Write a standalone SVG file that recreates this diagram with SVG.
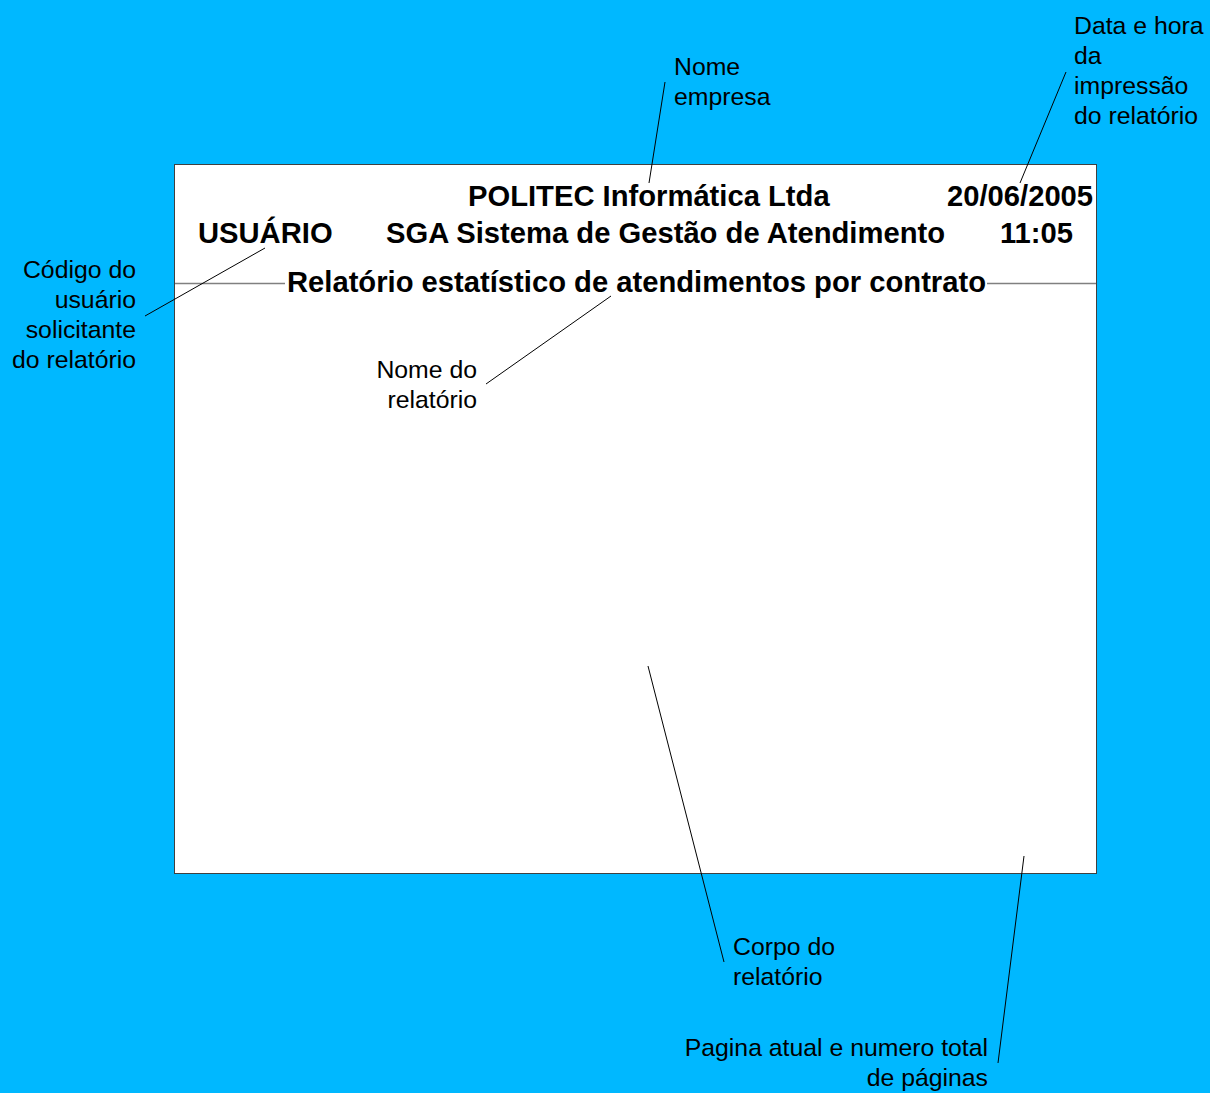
<svg xmlns="http://www.w3.org/2000/svg" width="1210" height="1093" viewBox="0 0 1210 1093">
  <style>
    .hdr { font-family: "Liberation Sans", Arial, sans-serif; font-weight: bold; font-size: 29.2px; fill: #000; }
    .lbl { font-family: "Liberation Sans", Arial, sans-serif; font-size: 24.8px; fill: #000; }
    .end { text-anchor: end; }
    .lead { stroke: #000; stroke-width: 1; fill: none; }
  </style>
  <rect x="0" y="0" width="1210" height="1093" fill="#00B8FF"/>

  <!-- report page -->
  <g id="page">
    <rect x="174.5" y="164.5" width="922" height="709" fill="#FFFFFF" stroke="#404040" stroke-width="1"/>
    <line x1="175" y1="283.5" x2="285" y2="283.5" stroke="#808080" stroke-width="1.5"/>
    <line x1="987" y1="283.5" x2="1096" y2="283.5" stroke="#808080" stroke-width="1.5"/>
    <text class="hdr" x="468" y="206">POLITEC Informática Ltda</text>
    <text class="hdr" x="947" y="206">20/06/2005</text>
    <text class="hdr" x="198" y="243">USUÁRIO</text>
    <text class="hdr" x="386" y="243">SGA Sistema de Gestão de Atendimento</text>
    <text class="hdr" x="1000" y="243">11:05</text>
    <text class="hdr" x="287" y="292">Relatório estatístico de atendimentos por contrato</text>
  </g>

  <!-- callout labels -->
  <g id="lbl-empresa">
    <text class="lbl" x="674" y="75">Nome</text>
    <text class="lbl" x="674" y="105">empresa</text>
  </g>
  <g id="lbl-data">
    <text class="lbl" x="1074" y="34">Data e hora</text>
    <text class="lbl" x="1074" y="64">da</text>
    <text class="lbl" x="1074" y="94">impressão</text>
    <text class="lbl" x="1074" y="124">do relatório</text>
  </g>
  <g id="lbl-usuario">
    <text class="lbl end" x="136" y="278">Código do</text>
    <text class="lbl end" x="136" y="308">usuário</text>
    <text class="lbl end" x="136" y="338">solicitante</text>
    <text class="lbl end" x="136" y="368">do relatório</text>
  </g>
  <g id="lbl-nome">
    <text class="lbl end" x="477" y="378">Nome do</text>
    <text class="lbl end" x="477" y="408">relatório</text>
  </g>
  <g id="lbl-corpo">
    <text class="lbl" x="733" y="955">Corpo do</text>
    <text class="lbl" x="733" y="985">relatório</text>
  </g>
  <g id="lbl-pagina">
    <text class="lbl end" x="988" y="1056">Pagina atual e numero total</text>
    <text class="lbl end" x="988" y="1086">de páginas</text>
  </g>

  <!-- leader lines -->
  <g id="connectors" class="lead">
    <line class="lead" x1="665" y1="82" x2="649" y2="183"/>
    <line class="lead" x1="1066" y1="72" x2="1020" y2="183"/>
    <line class="lead" x1="265" y1="248" x2="145" y2="316"/>
    <line class="lead" x1="611" y1="296" x2="486" y2="384"/>
    <line class="lead" x1="648" y1="666" x2="724" y2="962"/>
    <line class="lead" x1="1024" y1="856" x2="998" y2="1063"/>
  </g>
</svg>
